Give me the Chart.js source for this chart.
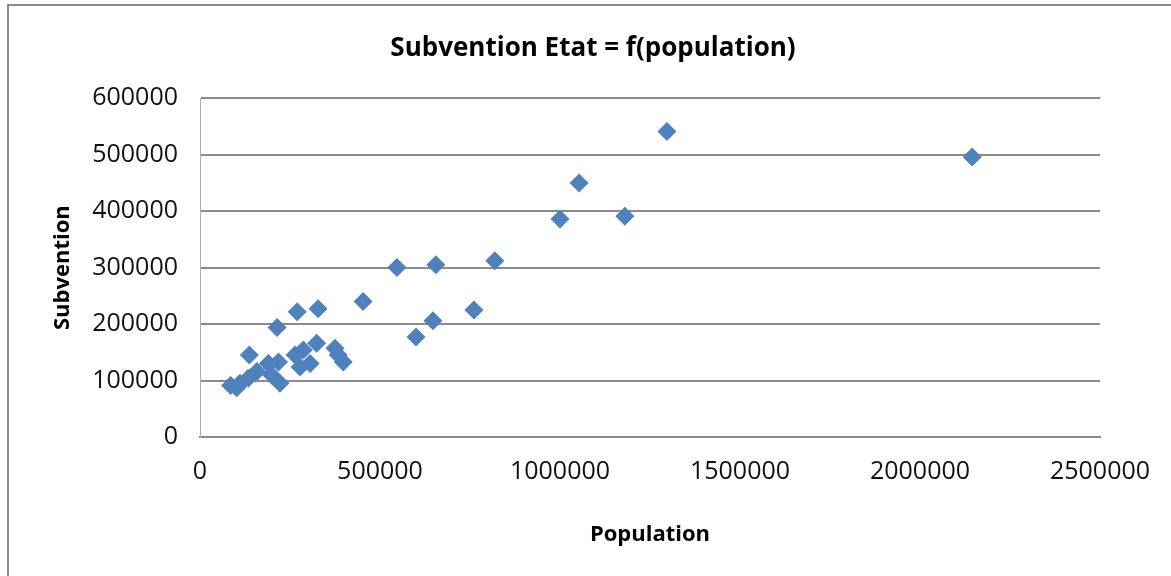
<!DOCTYPE html>
<html lang="fr">
<head>
<meta charset="UTF-8">
<title>Subvention Etat = f(population)</title>
<script src="https://cdn.jsdelivr.net/npm/chart.js"></script>
<style>
  body{ margin:0; background:#fff; }
  #wrap{ position:absolute; left:0; top:0; width:1171px; height:576px; }
  #frame{ position:absolute; left:7px; top:4px; right:-5px; bottom:-5px; border-left:2px solid #8c8c8c; border-top:2px solid #8c8c8c; pointer-events:none; }
</style>
</head>
<body>
<div id="wrap">
  <canvas id="chart" width="1171" height="576"></canvas>
  <div id="frame"></div>
</div>
<script>
// population (x) / subvention (y)
const population = [1297000, 2145000, 1053000, 1000000, 1180000, 819000, 547000, 655000,
  453000, 761000, 647000, 600000, 270000, 328000, 214000, 137000,
  85000, 102000, 111000, 134000, 158000, 190000, 218000, 199000, 222000,
  264000, 287000, 324000, 306000, 278000, 375000, 398000, 384000];
const subvention = [541000, 496000, 450000, 386000, 391000, 312000, 300000, 305000,
  240000, 225000, 206000, 177000, 222000, 227000, 194000, 145000,
  91000, 87000, 95000, 104000, 116000, 130000, 133000, 110000, 95000,
  145000, 154000, 166000, 130000, 124000, 157000, 133000, 145000];

const points = population.map((p, i) => ({x: p, y: subvention[i]}));

const tickFont = {family: "'Open Sans', sans-serif", size: 25};
const titleFont = {family: "'Open Sans', sans-serif", size: 22, weight: 'bold'};

new Chart(document.getElementById('chart'), {
  type: 'scatter',
  data: {
    datasets: [{
      label: 'Subvention',
      data: points,
      pointStyle: 'rectRot',
      pointRadius: 9.5,
      backgroundColor: '#4f81bd',
      borderColor: '#4f81bd',
      borderWidth: 0
    }]
  },
  options: {
    responsive: false,
    animation: false,
    // left/right chosen so the main title is centred like the original
    layout: {padding: {left: 86, right: 71, top: 0, bottom: 0}},
    plugins: {
      legend: {display: false},
      tooltip: {enabled: false},
      title: {
        display: true,
        text: 'Subvention Etat = f(population)',
        color: '#000',
        font: {family: "'Open Sans', sans-serif", size: 26, weight: 'bold'},
        padding: {top: 33, bottom: 34}
      }
    },
    scales: {
      x: {
        type: 'linear',
        min: 0, max: 2500000,
        afterFit: s => { s.height = 139; },
        border: {display: true, color: '#8c8c8c', width: 2},
        grid: {display: false, drawTicks: false},
        ticks: {stepSize: 500000, color: '#111', font: tickFont, padding: 20, maxRotation: 0,
          callback: v => String(v)},
        title: {display: true, text: 'Population', color: '#000', font: titleFont,
          padding: {top: 0, bottom: 28}}
      },
      y: {
        min: 0, max: 600000,
        afterFit: s => { s.width = 114; },
        border: {display: true, color: '#b0b0b0', width: 1},
        grid: {color: '#8c8c8c', lineWidth: 2, drawTicks: false},
        ticks: {stepSize: 100000, color: '#111', font: tickFont, padding: 22,
          callback: v => String(v)},
        title: {display: true, text: 'Subvention', color: '#000', font: titleFont,
          padding: {top: -36, bottom: 0}}
      }
    }
  }
});
</script>
</body>
</html>
